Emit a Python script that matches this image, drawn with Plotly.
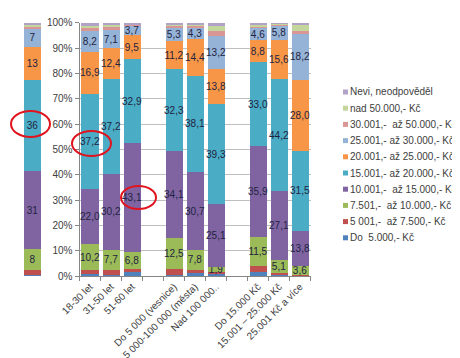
import plotly.graph_objects as go

# ---------------- data ----------------
categories = ["18-30 let", "31-50 let", "51-60 let", " ",
              "Do 5 000 (vesnice)", "5 000-100 000 (města)", "Nad 100 000..", "  ",
              "Do 15.000 Kč", "15.001 – 25.000 Kč", "25.001 Kč a více"]
bar_categories = ["18-30 let", "31-50 let", "51-60 let",
                  "Do 5 000 (vesnice)", "5 000-100 000 (města)", "Nad 100 000..",
                  "Do 15.000 Kč", "15.001 – 25.000 Kč", "25.001 Kč a více"]

series_names = ["Do  5.000,- Kč", "5 001,-  až 7.500,- Kč", "7.501,-  až 10.000,- Kč",
                "10.001,-  až 15.000,- Kč", "15.001,- až 20.000,- Kč", "20.001,- až 25.000,- Kč",
                "25.001,- až 30.000,- Kč", "30.001,-  až 50.000,- Kč", "nad 50.000,- Kč",
                "Nevi, neodpověděl"]

do5000   = [0.8, 0.5, 1.5, 0.5, 1.2, 0.7, 1.5, 0.4, 0.2]
s7500    = [1.5, 2.0, 1.2, 2.2, 1.3, 0.8, 2.5, 0.8, 0.3]
s10000   = [10.2, 7.7, 6.8, 12.5, 7.8, 1.9, 11.5, 5.1, 3.6]
s15000   = [22.0, 30.2, 43.1, 34.1, 30.7, 25.1, 35.9, 27.1, 13.8]
s20000   = [37.2, 37.2, 32.9, 32.3, 38.1, 39.3, 33.0, 44.2, 31.5]
s25000   = [16.9, 12.4, 9.5, 11.2, 14.4, 13.8, 8.8, 15.6, 28.0]
s30000   = [8.2, 7.1, 3.7, 5.3, 4.3, 13.2, 4.6, 5.8, 18.2]
s50000   = [1.5, 1.2, 0.8, 0.8, 1.2, 2.0, 0.8, 0.5, 1.0]
nad50000 = [0.5, 1.2, 0.0, 0.3, 0.3, 1.8, 0.4, 0.2, 3.0]
nevi     = [1.2, 0.5, 0.5, 0.8, 0.7, 1.4, 1.0, 0.3, 0.4]
main_values = [do5000, s7500, s10000, s15000, s20000, s25000, s30000, s50000, nad50000, nevi]

# partial bar cut from the neighbouring chart (left edge)
partial_values = [0.5, 2, 8, 31, 36, 13, 7, 1, 0.7, 0.8]
labelled = [False, False, True, True, True, True, True, False, False, False]

colors = ["#4F81BD", "#C0504D", "#9BBB59", "#8064A2", "#4BACC6", "#F79646",
          "#95B3D7", "#D99694", "#C3D69B", "#B3A2C7"]

y_ticks = [0, 10, 20, 30, 40, 50, 60, 70, 80, 90, 100]

# ---------------- figure ----------------
W, H = 460, 358
FONT = "Liberation Sans, Arial, sans-serif"
LABEL_COLOR = "#1F2340"

fig = go.Figure()

for i, (name, vals, col) in enumerate(zip(series_names, main_values, colors)):
    txt = [f"{v:.1f}".replace(".", ",") for v in vals] if labelled[i] else None
    fig.add_trace(go.Bar(
        x=bar_categories, y=vals, name=name, marker=dict(color=col, line=dict(width=0)),
        text=txt, textposition="inside" if txt else "none", textangle=0,
        constraintext="none", insidetextanchor="middle",
        textfont=dict(family=FONT, size=10, color=LABEL_COLOR),
        showlegend=False, hoverinfo="skip", xaxis="x", yaxis="y"))

for i, (name, v, col) in enumerate(zip(series_names, partial_values, colors)):
    fig.add_trace(go.Bar(
        x=[0], y=[v], name=name, marker=dict(color=col, line=dict(width=0)),
        text=[f"{v:g}"] if labelled[i] else None,
        textposition="inside" if labelled[i] else "none", textangle=0,
        constraintext="none", insidetextanchor="middle",
        textfont=dict(family=FONT, size=10, color=LABEL_COLOR),
        showlegend=False, hoverinfo="skip", width=1, xaxis="x2", yaxis="y2"))

ydom = [(H - 268) / H, (H - 14.7) / H]

fig.update_layout(
    width=W, height=H, margin=dict(l=0, r=0, t=0, b=0, autoexpand=False),
    paper_bgcolor="white", plot_bgcolor="white",
    barmode="stack", bargap=0.19, showlegend=False,
    font=dict(family=FONT, size=10, color="#404040"),
    xaxis=dict(domain=[71.5 / W, 302.5 / W], type="category",
               categoryorder="array", categoryarray=categories,
               tickson="boundaries", ticks="outside", ticklen=4, tickcolor="#868686",
               tickangle=-45, showline=True, linecolor="#868686", linewidth=1,
               showgrid=False, tickfont=dict(size=10, color="#404040"), anchor="y",
               automargin=False),
    yaxis=dict(domain=ydom, range=[0, 100], tickvals=y_ticks,
               ticktext=[f"{t}%" for t in y_ticks],
               showline=True, linecolor="#868686", linewidth=1,
               ticks="outside", ticklen=4, tickcolor="#868686",
               showgrid=True, gridcolor="#BFBFBF", gridwidth=1, zeroline=False,
               tickfont=dict(size=10, color="#404040"), anchor="x", automargin=False),
    xaxis2=dict(domain=[16 / W, 33 / W], range=[-0.5, 0.5], visible=False, anchor="y2",
                automargin=False),
    yaxis2=dict(domain=ydom, range=[0, 100], visible=False, anchor="x2", automargin=False),
)

# red highlight ellipses
ellipses = [(3, 42, 103, 129), (64, 103, 123, 148), (113, 148, 178, 201)]
for x0, x1, y0, y1 in ellipses:
    fig.add_shape(type="circle", xref="paper", yref="paper",
                  x0=x0 / W, x1=x1 / W, y0=1 - y1 / H, y1=1 - y0 / H,
                  line=dict(color="#E0141E", width=2))

# legend (top item = last series)
leg_x = 335
leg_y0 = 84
leg_step = 16.2
for k, idx in enumerate(range(len(series_names) - 1, -1, -1)):
    yc = leg_y0 + k * leg_step
    fig.add_shape(type="rect", xref="paper", yref="paper",
                  x0=leg_x / W, x1=(leg_x + 5) / W,
                  y0=1 - (yc + 2.5) / H, y1=1 - (yc - 2.5) / H,
                  fillcolor=colors[idx], line=dict(width=0))
    fig.add_annotation(xref="paper", yref="paper", x=(leg_x + 5) / W, y=1 - yc / H,
                       xanchor="left", yanchor="middle", showarrow=False,
                       text=series_names[idx],
                       font=dict(family=FONT, size=10, color="#404040"))

fig.write_html("out.html", config={"responsive": False})
